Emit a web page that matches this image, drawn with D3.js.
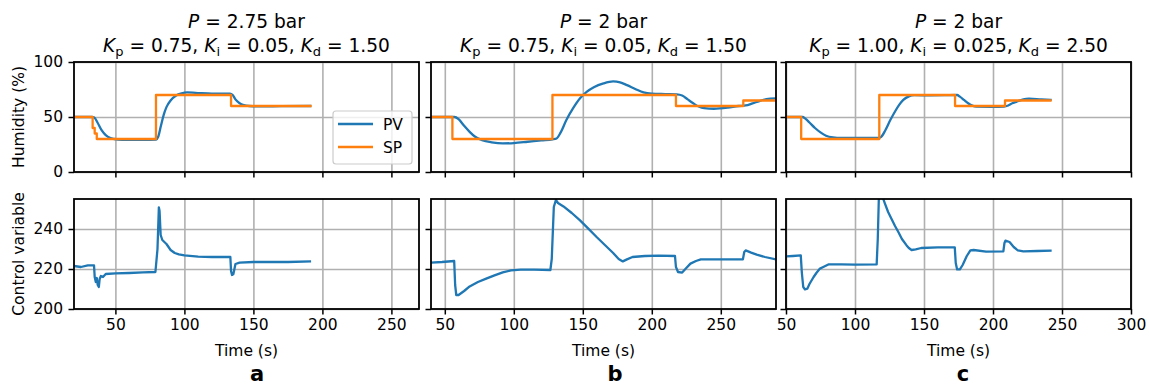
<!DOCTYPE html>
<html>
<head>
<meta charset="utf-8">
<script src="https://cdn.jsdelivr.net/npm/d3@7"></script>
<style>
  body { margin: 0; background: #fff; }
  svg { display: block; font-family: "DejaVu Sans", sans-serif; }
</style>
</head>
<body>
<div id="chart"></div>
<script>
// ---- data ----
const xDomains = [[20, 270], [40, 290], [50, 300]];
const xTicks = [[50, 100, 150, 200, 250], [50, 100, 150, 200, 250], [50, 100, 150, 200, 250, 300]];
const humDomain = [0, 100];
const humTicks = [0, 50, 100];
const cvDomain = [200, 255];
const cvTicks = [200, 220, 240];
const panelLetters = ['a', 'b', 'c'];
const letterX = [257, 615, 963];
const pressures = ['2.75', '2', '2'];
const gains = [['0.75', '0.05', '1.50'], ['0.75', '0.05', '1.50'], ['1.00', '0.025', '2.50']];

// setpoint, [time, value] steps (value holds until next time)
const spA = [[20, 50], [33.5, 40], [35, 35], [36.5, 30], [79.4, 70], [133.8, 60], [192.2, 60]];
const spB = [[40, 50], [55.5, 30], [128, 70], [217.5, 60], [266.3, 65], [290, 65]];
const spC = [[50, 50], [61, 30], [117.6, 70], [172.5, 60], [208.7, 65], [242.5, 65]];

// process variable (humidity)
const pvA = [[20, 50], [33, 50], [34.7, 49.5], [37, 45], [40, 38], [43, 33.5], [46, 31], [49, 30], [55, 29.3], [70, 29.2],
  [79.5, 29.5], [81, 32], [83, 42], [85, 52], [87, 59], [90, 65], [94, 69.5], [98, 71.5], [102, 72.3], [108, 72],
  [120, 71.3], [133, 71.3], [135, 70], [137, 66], [140, 62.5], [143, 60.8], [147, 60], [155, 59.6], [170, 59.8], [192, 60]];
const pvB = [[40, 50], [57, 50], [60, 48], [64, 42], [68, 36.5], [72, 32], [77, 29], [84, 27], [92, 26], [100, 26.3],
  [110, 27.5], [120, 28.8], [128, 29.7], [131, 30.5], [134, 36], [138, 47], [143, 58], [148, 67], [153, 73], [158, 77],
  [165, 80.5], [172, 82.3], [177, 81.5], [182, 79], [188, 75.5], [194, 72.3], [200, 71.2], [210, 70.8], [218, 70.5],
  [222, 69.5], [226, 66], [230, 62.5], [234, 59.5], [238, 58], [245, 57.5], [255, 58.5], [263, 60], [268, 60.5],
  [273, 62.4], [278, 64.5], [283, 66.3], [290, 67]];
const pvC = [[50, 50], [62, 50], [64, 48.5], [67, 45], [71, 40], [75, 36], [79, 33], [84, 31.5], [90, 31], [105, 31],
  [117, 31], [119, 32], [122, 38], [125.5, 47], [129, 55], [132, 61], [135, 65.5], [139, 68.8], [143, 69.8],
  [155, 69.7], [165, 69.8], [174, 70], [176, 68.5], [179, 65.5], [182, 62.5], [185, 60.3], [188, 59.4], [200, 59.3],
  [208, 59.5], [211, 60.5], [214, 62.5], [218, 64.3], [222, 66], [226, 66.6], [235, 66], [242.5, 65.6]];

// control variable
const cvA = [[20, 221.5], [25, 221], [30, 221.8], [34.5, 221.8], [35, 216], [35.8, 213.5], [36.5, 215.5], [37.2, 212],
  [38, 211], [38.6, 215], [39.5, 216.5], [41, 216], [43, 217.5], [50, 217.8], [60, 218], [70, 218.3], [79, 218.5],
  [80.5, 230], [81.5, 250.8], [82, 249], [82.8, 237], [84, 234.5], [87, 232.5], [90, 229.5], [93, 228], [96, 227.3],
  [100, 226.8], [110, 226.2], [120, 226], [133.3, 226], [133.8, 219], [134.5, 217], [135.5, 217.5], [137, 222.5],
  [140, 223.2], [150, 223.5], [160, 223.5], [175, 223.5], [191.8, 223.8]];
const cvB = [[40, 223.2], [48, 223.5], [56.8, 224], [57.5, 212], [58.3, 207], [60, 207], [64, 209], [68, 211.3],
  [74, 213.5], [80, 215.2], [86, 216.8], [92, 218.3], [98, 219.3], [105, 219.7], [115, 219.7], [126.5, 219.5],
  [127.5, 225], [129, 251], [130.5, 254.5], [132, 253], [136, 251.3], [142, 248], [148, 244.3], [154, 240.2],
  [160, 236], [166, 232], [172, 228], [176, 225], [179, 223.8], [182, 224.8], [186, 226], [195, 226.5], [205, 226.7],
  [216.8, 226.5], [217.5, 221], [219, 218.5], [222, 218.2], [225, 220.5], [228, 222.7], [232, 224], [235.5, 224.8],
  [250, 224.8], [266, 224.8], [267, 228.5], [268, 229.3], [272, 228.2], [276, 227.2], [282, 226], [290, 224.8]];
const cvC = [[50, 226.3], [55, 226.5], [60.7, 226.8], [61.5, 218], [62.5, 211], [63.7, 209.8], [65.5, 210.2], [67, 212.5],
  [70, 216], [72, 218], [74.6, 220.2], [77, 221], [80.7, 222.3], [90, 222.3], [100, 222.2], [115.7, 222.3],
  [116.5, 235], [117.3, 256], [120, 256], [121.7, 252.7], [124, 248.5], [126.5, 245], [129, 241.5], [131.4, 238.5],
  [134, 235], [137.4, 231.8], [139, 230.5], [141, 229.5], [144, 229.8], [148, 230.5], [160, 230.8], [172.3, 230.8],
  [173, 223], [174, 219.8], [176, 219.8], [178, 222], [181, 226.5], [183.6, 229.3], [186, 229.5], [195, 228.7],
  [207.5, 228.8], [208.3, 233], [209, 234.2], [212, 233.5], [215, 231], [218, 229.3], [222, 228.8], [232, 229], [242.5, 229.2]];

const spData = [spA, spB, spC];
const pvData = [pvA, pvB, pvC];
const cvData = [cvA, cvB, cvC];

// ---- layout ----
const W = 1149, H = 387;
const lefts = [74, 431, 786], pw = 345;
const topRow = { y0: 62, y1: 172 }, botRow = { y0: 199, y1: 309 };
const blue = '#1f77b4', orange = '#ff7f0e';
const fs = 15.5;

const svg = d3.select('#chart').append('svg').attr('width', W).attr('height', H);

function drawGrid(g, x, y, xt, yt, y0, y1) {
  g.append('g').attr('transform', `translate(0,${y1})`)
    .call(d3.axisBottom(x).tickValues(xt).tickSize(-(y1 - y0)).tickFormat(''))
    .call(a => a.select('.domain').remove())
    .selectAll('line').attr('stroke', '#b0b0b0').attr('stroke-width', 1.6);
  g.append('g').attr('transform', `translate(${x.range()[0]},0)`)
    .call(d3.axisLeft(y).tickValues(yt).tickSize(-pw).tickFormat(''))
    .call(a => a.select('.domain').remove())
    .selectAll('line').attr('stroke', '#b0b0b0').attr('stroke-width', 1.6);
}

function drawTicks(g, x, y, xt, yt, xLabels, yLabels, y1) {
  const xa = g.append('g').attr('transform', `translate(0,${y1})`)
    .call(d3.axisBottom(x).tickValues(xt).tickSize(5.5).tickPadding(4).tickFormat(xLabels ? d3.format('d') : ''));
  const ya = g.append('g').attr('transform', `translate(${x.range()[0]},0)`)
    .call(d3.axisLeft(y).tickValues(yt).tickSize(5.5).tickPadding(5.5).tickFormat(yLabels ? d3.format('d') : ''));
  [xa, ya].forEach(a => {
    a.select('.domain').remove();
    a.selectAll('line').attr('stroke', '#000').attr('stroke-width', 1.5);
    a.selectAll('text').attr('fill', '#000').attr('font-size', fs).attr('font-family', '"DejaVu Sans", sans-serif');
  });
}

lefts.forEach((left, i) => {
  const x = d3.scaleLinear().domain(xDomains[i]).range([left, left + pw]);
  const yH = d3.scaleLinear().domain(humDomain).range([topRow.y1, topRow.y0]);
  const yC = d3.scaleLinear().domain(cvDomain).range([botRow.y1, botRow.y0]);

  // clip paths
  [['t', topRow], ['b', botRow]].forEach(([k, r]) => {
    svg.append('clipPath').attr('id', `clip-${k}${i}`)
      .append('rect').attr('x', left).attr('y', r.y0).attr('width', pw).attr('height', r.y1 - r.y0);
  });

  // ---- top: humidity ----
  const gt = svg.append('g');
  drawGrid(gt, x, yH, xTicks[i], humTicks, topRow.y0, topRow.y1);
  const lineSmooth = d3.line().x(d => x(d[0])).y(d => yH(d[1])).curve(d3.curveMonotoneX);
  const lineStep = d3.line().x(d => x(d[0])).y(d => yH(d[1])).curve(d3.curveStepAfter);
  const dt = gt.append('g').attr('clip-path', `url(#clip-t${i})`);
  dt.append('path').attr('d', lineSmooth(pvData[i])).attr('fill', 'none')
    .attr('stroke', blue).attr('stroke-width', 2.3).attr('stroke-linejoin', 'round');
  dt.append('path').attr('d', lineStep(spData[i])).attr('fill', 'none')
    .attr('stroke', orange).attr('stroke-width', 2.3).attr('stroke-linejoin', 'round');
  gt.append('rect').attr('x', left).attr('y', topRow.y0).attr('width', pw).attr('height', topRow.y1 - topRow.y0)
    .attr('fill', 'none').attr('stroke', '#000').attr('stroke-width', 1.8);
  drawTicks(gt, x, yH, xTicks[i], humTicks, false, i === 0, topRow.y1);

  // ---- bottom: control variable ----
  const gb = svg.append('g');
  drawGrid(gb, x, yC, xTicks[i], cvTicks, botRow.y0, botRow.y1);
  const lineCv = d3.line().x(d => x(d[0])).y(d => yC(d[1]));
  gb.append('g').attr('clip-path', `url(#clip-b${i})`)
    .append('path').attr('d', lineCv(cvData[i])).attr('fill', 'none')
    .attr('stroke', blue).attr('stroke-width', 2.3).attr('stroke-linejoin', 'round');
  gb.append('rect').attr('x', left).attr('y', botRow.y0).attr('width', pw).attr('height', botRow.y1 - botRow.y0)
    .attr('fill', 'none').attr('stroke', '#000').attr('stroke-width', 1.8);
  drawTicks(gb, x, yC, xTicks[i], cvTicks, true, i === 0, botRow.y1);

  const cx = left + pw / 2;
  svg.append('text').attr('x', cx).attr('y', 356).attr('text-anchor', 'middle')
    .attr('font-size', fs).text('Time (s)');
  svg.append('text').attr('x', letterX[i]).attr('y', 381).attr('text-anchor', 'middle')
    .attr('font-size', 21).attr('font-weight', 'bold').text(panelLetters[i]);

  // title
  const t1 = svg.append('text').attr('x', cx).attr('y', 27.7).attr('text-anchor', 'middle').attr('font-size', 18.6);
  t1.append('tspan').attr('font-style', 'italic').text('P');
  t1.append('tspan').text(` = ${pressures[i]} bar`);
  const t2 = svg.append('text').attr('x', cx).attr('y', 51.7).attr('text-anchor', 'middle').attr('font-size', 18.6);
  ['p', 'i', 'd'].forEach((s, k) => {
    t2.append('tspan').attr('font-style', 'italic').text('K');
    t2.append('tspan').attr('font-size', '0.7em').attr('dy', 4).text(s);
    t2.append('tspan').attr('dy', -4).text(` = ${gains[i][k]}` + (k < 2 ? ', ' : ''));
  });
});

// y labels
svg.append('text').attr('transform', `translate(24,${(topRow.y0 + topRow.y1) / 2}) rotate(-90)`)
  .attr('text-anchor', 'middle').attr('font-size', fs).text('Humidity (%)');
svg.append('text').attr('transform', `translate(24,${(botRow.y0 + botRow.y1) / 2}) rotate(-90)`)
  .attr('text-anchor', 'middle').attr('font-size', fs).text('Control variable');

// legend
const lg = svg.append('g');
lg.append('rect').attr('x', 333).attr('y', 111).attr('width', 79).attr('height', 53).attr('rx', 3)
  .attr('fill', '#fff').attr('fill-opacity', 0.8).attr('stroke', '#cccccc').attr('stroke-width', 1.2);
[['PV', blue], ['SP', orange]].forEach(([name, c], k) => {
  const yy = 124 + k * 23;
  lg.append('line').attr('x1', 338).attr('x2', 373).attr('y1', yy).attr('y2', yy)
    .attr('stroke', c).attr('stroke-width', 2.3);
  lg.append('text').attr('x', 383).attr('y', yy + 5.5).attr('font-size', fs).text(name);
});
</script>
</body>
</html>
